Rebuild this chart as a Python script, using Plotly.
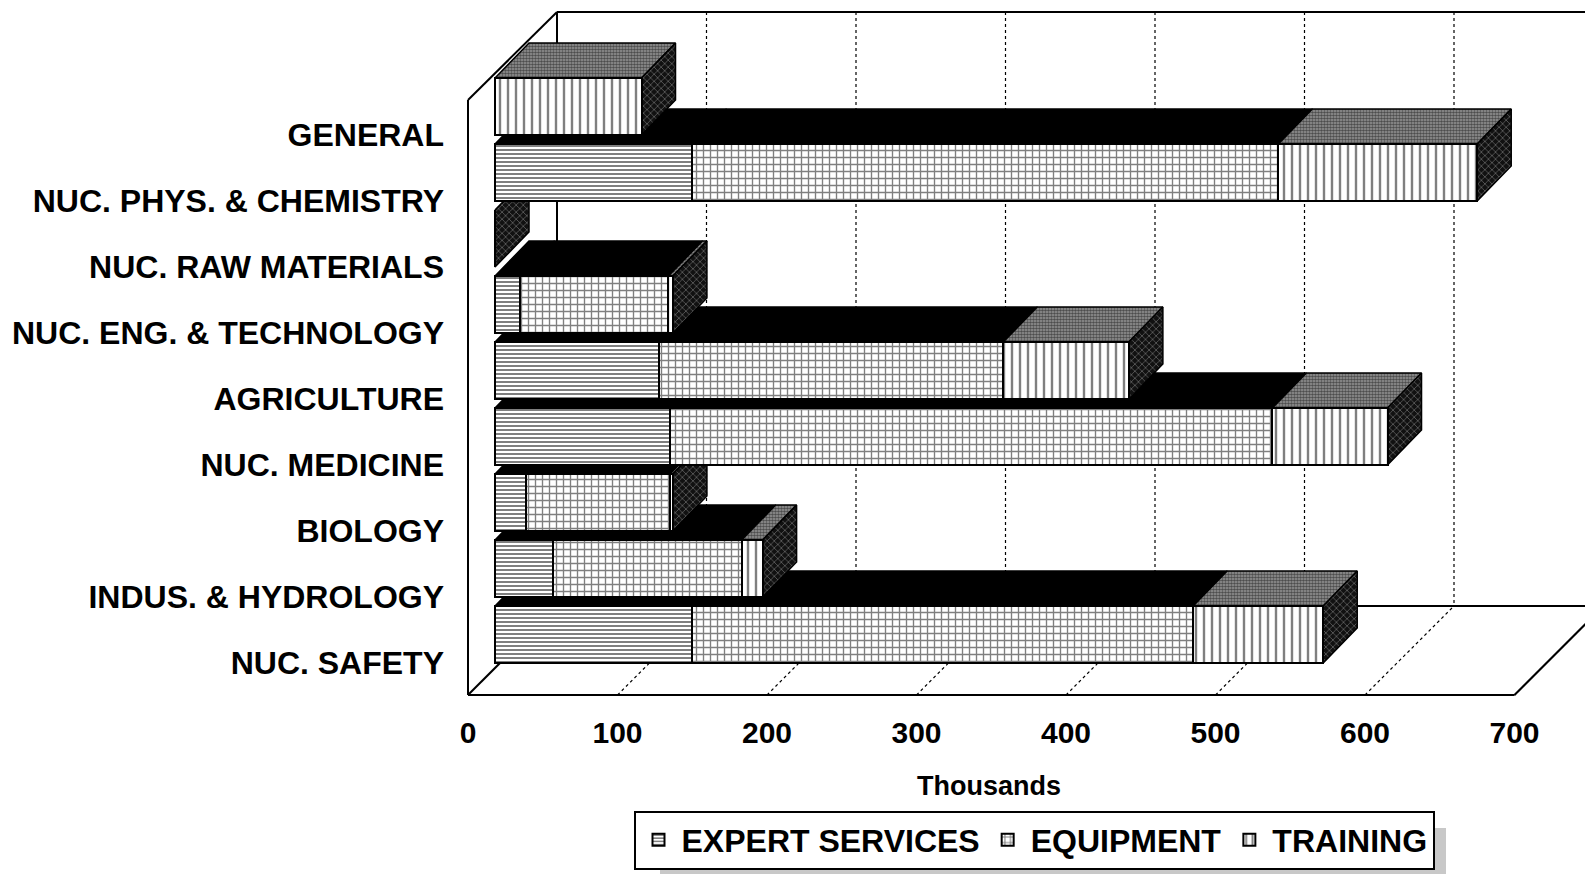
import plotly.graph_objects as go

# ---------------- data (thousands) ----------------
CATEGORIES = ["GENERAL", "NUC. PHYS. & CHEMISTRY", "NUC. RAW MATERIALS",
              "NUC. ENG. & TECHNOLOGY", "AGRICULTURE", "NUC. MEDICINE",
              "BIOLOGY", "INDUS. & HYDROLOGY", "NUC. SAFETY"]
EXPERT_SERVICES = [0, 132, 0, 17, 110, 117, 21, 39, 132]
EQUIPMENT = [0, 392, 0, 99, 230, 403, 96, 126, 335]
TRAINING = [98, 133, 0, 3, 84, 77, 2, 14, 87]
SERIES_NAMES = ["EXPERT SERVICES", "EQUIPMENT", "TRAINING"]
X_TICKS = [0, 100, 200, 300, 400, 500, 600, 700]
X_TITLE = "Thousands"

# ---------------- geometry ----------------
W, H = 1585, 874
PX_X = 1.495          # pixels per thousand
PX_ROW = 66.0         # pixels per category row
ORIGIN_X, ORIGIN_Y = 495.0, 106.5   # pixel of value 0 / first row centre
BAR_W = 57.0 / PX_ROW
DX = 34.0 / PX_X      # 3-D depth in x units
DY = 35.0 / PX_ROW    # 3-D depth in row units

X_RANGE = [-ORIGIN_X / PX_X, (W - ORIGIN_X) / PX_X]
Y_RANGE = [(H - ORIGIN_Y) / PX_ROW, -ORIGIN_Y / PX_ROW]

FRONT_DX = (468 - ORIGIN_X) / PX_X
BACK_DX = (557 - ORIGIN_X) / PX_X
FLOOR_FRONT = (695 - ORIGIN_Y) / PX_ROW
FLOOR_BACK = (606 - ORIGIN_Y) / PX_ROW
WALL_TOP_FRONT = (100 - ORIGIN_Y) / PX_ROW
WALL_TOP_BACK = (12 - ORIGIN_Y) / PX_ROW
X_MAX = X_TICKS[-1]

FONT = "Liberation Sans, Arial, sans-serif"

FRONT_PATTERNS = [
    dict(shape="-", fgcolor="black", bgcolor="white", size=4, solidity=0.5),
    dict(shape="+", fgcolor="black", bgcolor="white", size=7, solidity=0.35),
    dict(shape="|", fgcolor="black", bgcolor="white", size=8, solidity=0.3),
]
TOP_STYLES = [
    dict(fillcolor="black"),
    dict(fillcolor="black"),
    dict(fillpattern=dict(shape=".", fgcolor="#000000", bgcolor="#9a9a9a", size=3, solidity=0.6)),
]
SIDE_STYLE = dict(fillpattern=dict(shape="x", fgcolor="white", bgcolor="#111111", size=5, solidity=0.2))

series = [EXPERT_SERVICES, EQUIPMENT, TRAINING]
rows = list(range(len(CATEGORIES)))

fig = go.Figure()

# 3-D top and end faces, drawn from the back row (bottom) to the front row (top)
for i in reversed(rows):
    ytop = i - BAR_W / 2
    start = 0.0
    for s, vals in enumerate(series):
        v = vals[i]
        if v > 0:
            a, b = start, start + v
            fig.add_trace(go.Scatter(
                x=[a, b, b + DX, a + DX, a],
                y=[ytop, ytop, ytop - DY, ytop - DY, ytop],
                mode="lines", fill="toself", line=dict(color="black", width=1.5),
                showlegend=False, hoverinfo="skip", zorder=0, **TOP_STYLES[s]))
        start += v
    T = start
    fig.add_trace(go.Scatter(
        x=[T, T, T + DX, T + DX, T],
        y=[ytop, ytop + BAR_W, ytop + BAR_W - DY, ytop - DY, ytop],
        mode="lines", fill="toself", line=dict(color="black", width=1.5),
        showlegend=False, hoverinfo="skip", zorder=0, **SIDE_STYLE))

# front faces: real stacked bars
for s, vals in enumerate(series):
    fig.add_trace(go.Bar(
        x=vals, y=rows, orientation="h", name=SERIES_NAMES[s], width=BAR_W,
        marker=dict(color="white", pattern=FRONT_PATTERNS[s],
                    line=dict(color="black", width=2)),
        zorder=1))

# walls, floor and gridlines
shapes = []
line = dict(color="black", width=2)
dot = dict(color="black", width=1.2, dash="dot")
def seg(x0, y0, x1, y1, ln):
    shapes.append(dict(type="line", xref="x", yref="y", x0=x0, y0=y0, x1=x1, y1=y1,
                       line=ln, layer="below"))
for t in X_TICKS[1:]:
    seg(BACK_DX + t, WALL_TOP_BACK, BACK_DX + t, FLOOR_BACK, dot)
    seg(FRONT_DX + t, FLOOR_FRONT, BACK_DX + t, FLOOR_BACK, dot)
seg(FRONT_DX, FLOOR_FRONT, FRONT_DX, WALL_TOP_FRONT, line)
seg(FRONT_DX, WALL_TOP_FRONT, BACK_DX, WALL_TOP_BACK, line)
seg(BACK_DX, WALL_TOP_BACK, BACK_DX, FLOOR_BACK, line)
seg(BACK_DX, WALL_TOP_BACK, BACK_DX + X_MAX, WALL_TOP_BACK, line)
seg(FRONT_DX, FLOOR_FRONT, BACK_DX, FLOOR_BACK, line)
seg(BACK_DX, FLOOR_BACK, BACK_DX + X_MAX, FLOOR_BACK, line)
seg(FRONT_DX, FLOOR_FRONT, FRONT_DX + X_MAX, FLOOR_FRONT, line)
seg(FRONT_DX + X_MAX, FLOOR_FRONT, BACK_DX + X_MAX, FLOOR_BACK, line)
# legend shadow
shapes.append(dict(type="rect", xref="paper", yref="paper",
                   x0=660 / W, x1=1446 / W, y0=1 - 880 / H, y1=1 - 828 / H,
                   fillcolor="#c8c8c8", line=dict(width=0), layer="above"))

fig.update_layout(
    width=W, height=H, margin=dict(l=0, r=0, t=0, b=0),
    paper_bgcolor="white", plot_bgcolor="white",
    barmode="stack", shapes=shapes,
    font=dict(family=FONT, color="black"),
    xaxis=dict(range=X_RANGE, domain=[0, 1], anchor="free", position=1 - 695 / H,
               showgrid=False, zeroline=False, showline=False, ticks="",
               tickvals=X_TICKS, ticktext=[str(t) for t in X_TICKS],
               ticklabelshift=-27, ticklabelstandoff=17,
               tickfont=dict(size=30, family=FONT, weight="bold")),
    yaxis=dict(range=Y_RANGE, domain=[0, 1], anchor="free", position=468 / W,
               showgrid=False, zeroline=False, showline=False, ticks="",
               tickvals=rows, ticktext=CATEGORIES,
               ticklabelshift=-28, ticklabelstandoff=24,
               tickfont=dict(size=32, family=FONT, weight="bold")),
    legend=dict(orientation="h", x=1034 / W, xanchor="center", y=1 - 840 / H, yanchor="middle",
                bgcolor="white", bordercolor="black", borderwidth=2,
                font=dict(size=32, family=FONT, weight="bold"), traceorder="normal",
                itemwidth=36),
    annotations=[dict(text=X_TITLE, xref="paper", yref="paper", x=989 / W, y=1 - 786 / H,
                      xanchor="center", yanchor="middle", showarrow=False,
                      font=dict(size=27, family=FONT, weight="bold"))],
    showlegend=True,
)

fig.write_html("out.html", config={"displayModeBar": False},
               post_script="document.body.style.margin='0px';")
